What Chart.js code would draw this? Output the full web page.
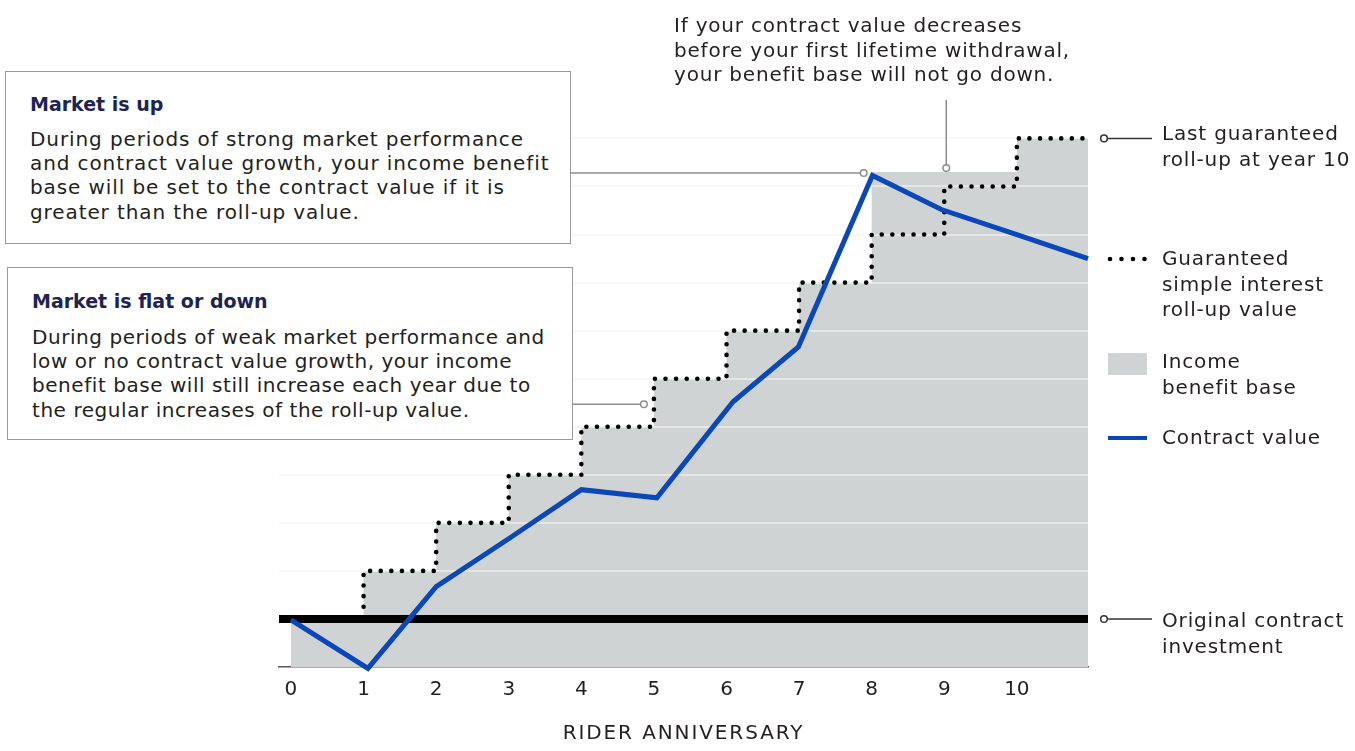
<!DOCTYPE html>
<html>
<head>
<meta charset="utf-8">
<script src="https://cdn.jsdelivr.net/npm/chart.js@4.4.1/dist/chart.umd.min.js"></script>
<style>
  html, body { margin: 0; padding: 0; background: #fff; }
  #wrap { position: relative; width: 1355px; height: 751px; overflow: hidden;
          font-family: "DejaVu Sans", sans-serif; color: #231f20; }
  #c { position: absolute; left: 0; top: 0; }
  .txt { position: absolute; font-size: 20px; line-height: 24.5px; letter-spacing: 0.8px; white-space: nowrap; }
  .box { position: absolute; background: #fff; border: 1.5px solid #9a9a9a; box-sizing: border-box; }
  .box .ttl { position: absolute; left: 24px; font-weight: 700; color: #1d2355; font-size: 19px; line-height: 24px; letter-spacing: 0px; }
  .box .body { position: absolute; left: 24px; font-size: 20px; line-height: 24.2px; letter-spacing: 0.9px; white-space: nowrap; }
  .box .body.tight { letter-spacing: 0.55px; }
  .lab { position: absolute; left: 1162px; font-size: 20px; line-height: 25.5px; letter-spacing: 0.85px; white-space: nowrap; }
  #xtitle { position: absolute; left: 0; width: 1367px; top: 720px; text-align: center; font-size: 20px; line-height: 24px; letter-spacing: 1.9px; }
</style>
</head>
<body>
<div id="wrap">
  <canvas id="c" width="1355" height="751"></canvas>

  <div class="txt" style="left:674px; top:13px;">If your contract value decreases<br>before your first lifetime withdrawal,<br>your benefit base will not go down.</div>

  <div class="box" style="left:5px; top:71px; width:566px; height:173px;">
    <div class="ttl" style="top:20px;">Market is up</div>
    <div class="body" style="top:55px;">During periods of strong market performance<br>and contract value growth, your income benefit<br>base will be set to the contract value if it is<br>greater than the roll-up value.</div>
  </div>

  <div class="box" style="left:7px; top:267px; width:566px; height:173px;">
    <div class="ttl" style="top:21px;">Market is flat or down</div>
    <div class="body tight" style="top:57px;">During periods of weak market performance and<br>low or no contract value growth, your income<br>benefit base will still increase each year due to<br>the regular increases of the roll-up value.</div>
  </div>

  <div class="lab" style="top:121px;">Last guaranteed<br>roll-up at year 10</div>
  <div class="lab" style="top:246px;">Guaranteed<br>simple interest<br>roll-up value</div>
  <div class="lab" style="top:349px;">Income<br>benefit base</div>
  <div class="lab" style="top:425px;">Contract value</div>
  <div class="lab" style="top:608px;">Original contract<br>investment</div>
  <div id="xtitle">RIDER ANNIVERSARY</div>
</div>

<script>
// x axis: rider anniversary
const years = [0, 1, 2, 3, 4, 5, 6, 7, 8, 9, 10];
const xMin = -0.165;
const xEnd = 10.98;

// guaranteed simple interest roll-up value (steps)
const rollUp = [1, 2, 3, 4, 5, 6, 7, 8, 9, 10, 11];

// income benefit base (grey area)
const benefitBase = [1, 2, 3, 4, 5, 6, 7, 8, 10.3, 10.3, 11];

// contract value line
const contractX = [0, 1.06, 2, 3.04, 4, 5.04, 6.09, 6.99, 8.01, 8.96, 10, 10.98];
const contractY = [0.98, -0.03, 1.67, 2.71, 3.69, 3.52, 5.52, 6.66, 10.23, 9.52, 9.0, 8.5];

// original contract investment level
const originalInvestment = 1;

// horizontal grid levels
const gridLevels = [2, 3, 4, 5, 6, 7, 8, 9, 10, 11];

const GREY = "#d0d3d4";
const BLUE = "#0a47b9";

const stepPoints = (vals) => {
  const pts = years.map((x, i) => ({ x: x, y: vals[i] }));
  pts.push({ x: xEnd, y: vals[vals.length - 1] });
  return pts;
};

// gridlines show through the grey area, annotations and legend glyphs
const extras = {
  id: "extras",
  afterDatasetDraw(chart, args) {
    if (args.index !== 0) return;
    const { ctx, chartArea } = chart;
    const y = chart.scales.y;
    ctx.save();
    ctx.strokeStyle = "rgba(255,255,255,0.45)";
    ctx.lineWidth = 2;
    gridLevels.forEach((v) => {
      const py = Math.round(y.getPixelForValue(v));
      ctx.beginPath();
      ctx.moveTo(chartArea.left, py);
      ctx.lineTo(chartArea.right, py);
      ctx.stroke();
    });
    ctx.restore();
  },
  afterDraw(chart) {
    const { ctx } = chart;
    const x = chart.scales.x;
    const y = chart.scales.y;

    const circle = (cx, cy) => {
      ctx.beginPath();
      ctx.arc(cx, cy, 3.3, 0, Math.PI * 2);
      ctx.fillStyle = "#fff";
      ctx.fill();
      ctx.stroke();
    };
    const line = (x1, y1, x2, y2) => {
      ctx.beginPath();
      ctx.moveTo(x1, y1);
      ctx.lineTo(x2, y2);
      ctx.stroke();
    };

    ctx.save();
    ctx.strokeStyle = "#8c8c8c";
    ctx.lineWidth = 1.5;

    // Market is up
    let cy = y.getPixelForValue(benefitBase[8]) + 1;
    let cx = x.getPixelForValue(8) - 8;
    line(571, cy, cx - 3, cy);
    circle(cx, cy);

    // Market is flat or down
    cy = y.getPixelForValue((rollUp[4] + rollUp[5]) / 2) + 1.5;
    cx = x.getPixelForValue(5) - 10;
    line(573, cy, cx - 3, cy);
    circle(cx, cy);

    // benefit base will not go down
    cx = x.getPixelForValue(9) + 2;
    cy = y.getPixelForValue(benefitBase[9]) - 4;
    line(cx, 100, cx, cy - 3);
    circle(cx, cy);

    // right-hand callouts
    ctx.strokeStyle = "#333";
    cy = y.getPixelForValue(rollUp[10]);
    line(1107, cy, 1152, cy);
    circle(1104, cy);
    cy = y.getPixelForValue(originalInvestment);
    line(1107, cy, 1152, cy);
    circle(1104, cy);

    // legend glyphs
    ctx.fillStyle = "#000";
    [1110, 1121.5, 1133, 1144.5].forEach((dx) => {
      ctx.beginPath();
      ctx.arc(dx, 259, 2.3, 0, Math.PI * 2);
      ctx.fill();
    });
    ctx.fillStyle = GREY;
    ctx.fillRect(1108, 353, 39, 22);
    ctx.strokeStyle = BLUE;
    ctx.lineWidth = 4;
    line(1108, 438, 1147, 438);
    ctx.restore();
  },
};

new Chart(document.getElementById("c"), {
  type: "line",
  data: {
    datasets: [
      {
        label: "Income benefit base",
        data: stepPoints(benefitBase),
        stepped: true,
        fill: "origin",
        backgroundColor: GREY,
        borderWidth: 0,
        pointRadius: 0,
        order: 4,
      },
      {
        label: "Original contract investment",
        data: [{ x: xMin, y: originalInvestment }, { x: xEnd, y: originalInvestment }],
        borderColor: "#000",
        borderWidth: 8,
        borderCapStyle: "butt",
        pointRadius: 0,
        fill: false,
        order: 3,
      },
      {
        label: "Guaranteed simple interest roll-up value",
        data: stepPoints(rollUp),
        stepped: true,
        borderColor: "#000",
        borderWidth: 4.6,
        borderDash: [0, 10.6],
        borderCapStyle: "round",
        pointRadius: 0,
        fill: false,
        order: 2,
      },
      {
        label: "Contract value",
        data: contractX.map((x, i) => ({ x: x, y: contractY[i] })),
        borderColor: BLUE,
        borderWidth: 5,
        borderJoinStyle: "miter",
        tension: 0,
        pointRadius: 0,
        fill: false,
        clip: false,
        order: 1,
      },
    ],
  },
  options: {
    responsive: false,
    animation: false,
    events: [],
    layout: { padding: { left: 279, right: 267, top: 124, bottom: 0 } },
    plugins: {
      legend: { display: false },
      tooltip: { enabled: false },
    },
    scales: {
      x: {
        type: "linear",
        min: xMin,
        max: xEnd,
        z: 1,
        afterBuildTicks: (scale) => {
          scale.ticks = years.map((v) => ({ value: v }));
        },
        afterFit: (scale) => {
          scale.height = 84;
        },
        grid: { display: false, drawTicks: false },
        border: { display: true, color: "#555", width: 1.5 },
        ticks: {
          color: "#231f20",
          padding: 11,
          font: { family: "DejaVu Sans", size: 20 },
          callback: (v) => String(v),
        },
      },
      y: {
        type: "linear",
        min: 0,
        max: 11.3,
        afterBuildTicks: (scale) => {
          scale.ticks = gridLevels.map((v) => ({ value: v }));
        },
        afterFit: (scale) => {
          scale.width = 0;
        },
        grid: { color: "#f1f1f1", lineWidth: 2, drawTicks: false },
        border: { display: false },
        ticks: { display: false },
      },
    },
  },
  plugins: [extras],
});
</script>
</body>
</html>
